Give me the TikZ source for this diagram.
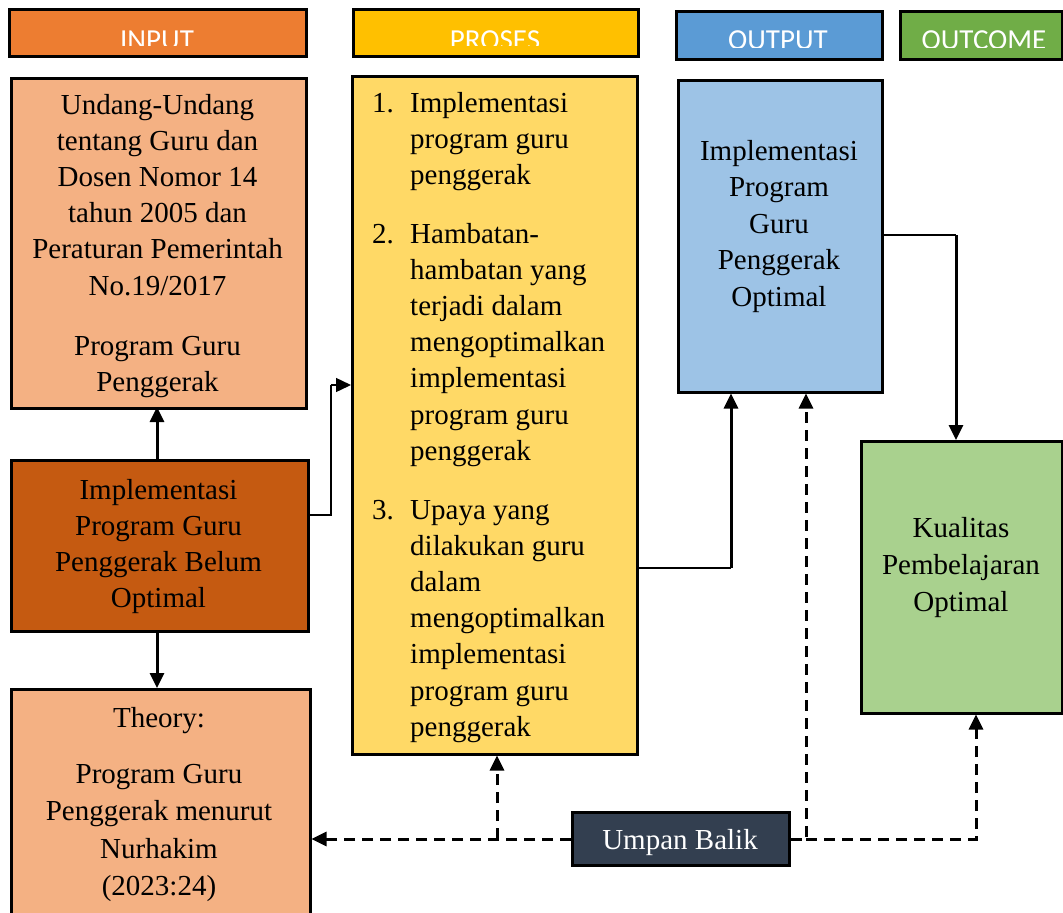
\documentclass[tikz,border=0pt]{standalone}
\usepackage{fontspec}
\setmainfont{Liberation Serif}
\newfontfamily\hdrfont{Carlito}
\usetikzlibrary{arrows.meta}
\definecolor{cInput}{HTML}{ED7D31}
\definecolor{cProses}{HTML}{FFC000}
\definecolor{cOutput}{HTML}{5B9BD5}
\definecolor{cOutcome}{HTML}{70AD47}
\definecolor{cInA}{HTML}{F4B183}
\definecolor{cInB}{HTML}{C55A11}
\definecolor{cPro}{HTML}{FFD966}
\definecolor{cOut}{HTML}{9DC3E6}
\definecolor{cOc}{HTML}{A9D18E}
\definecolor{cUmp}{HTML}{333F50}
\begin{document}
\begin{tikzpicture}[x=1pt,y=-1pt,
  box/.style={draw=black,line width=2.5pt,inner sep=0pt,anchor=north west},
  txt/.style={inner sep=0pt,anchor=base,font=\fontsize{29}{36.2}\selectfont},
  hdrtxt/.style={inner sep=0pt,anchor=base,text=white,font=\hdrfont\fontsize{29}{30}\selectfont},
  tip/.style={-{Triangle[length=15pt,width=14pt]}},
  thin/.style={line width=1.4pt},
  strong/.style={line width=3pt,tip},
  fb/.style={line width=3pt,dash pattern=on 11pt off 7pt},
]
\useasboundingbox (0,0) rectangle (1063,913);

% headers
\node[box,fill=cInput,minimum width=297pt,minimum height=47pt] (hIn) at (8,8) {};
\node[box,fill=cProses,minimum width=285pt,minimum height=47pt] (hPro) at (352,8) {};
\node[box,fill=cOutput,minimum width=206pt,minimum height=48pt] (hOut) at (675,10) {};
\node[box,fill=cOutcome,minimum width=162pt,minimum height=48pt] (hOc) at (899,10) {};
\begin{scope}
\clip (0,0) rectangle (640,45);
\node[hdrtxt] (tIn) at (157,49) {INPUT};
\node[hdrtxt] (tPro) at (495,49) {PROSES};
\end{scope}
\begin{scope}
\clip (660,0) rectangle (1063,47);
\node[hdrtxt] (tOut) at (778,49.5) {OUTPUT};
\node[hdrtxt] (tOc) at (984,49.5) {OUTCOME};
\end{scope}

% boxes
\node[box,fill=cInA,minimum width=295pt,minimum height=330pt] (in1) at (10,77) {};
\node[box,fill=cInB,minimum width=297pt,minimum height=171pt] (in2) at (10,459) {};
\node[box,fill=cInA,minimum width=299pt,minimum height=240pt] (theory) at (10,688) {};
\node[box,fill=cPro,minimum width=285pt,minimum height=678pt] (proses) at (351,75) {};
\node[box,fill=cOut,minimum width=204pt,minimum height=312pt] (output) at (677,79) {};
\node[box,fill=cOc,minimum width=201pt,minimum height=272pt] (outcome) at (860,440) {};
\node[box,fill=cUmp,minimum width=217pt,minimum height=53pt] (umpan) at (571,811) {};

% texts
\node[txt] (in1t) at (157.5,114) {\begin{tabular}[t]{@{}c@{}}
Undang-Undang\\ tentang Guru dan\\ Dosen Nomor 14\\ tahun 2005 dan\\ Peraturan Pemerintah\\ No.19/2017\\[24pt]
Program Guru\\ Penggerak\end{tabular}};
\node[txt] (in2t) at (158.5,499) {\begin{tabular}[t]{@{}c@{}}
Implementasi\\ Program Guru\\ Penggerak Belum\\ Optimal\end{tabular}};
\node[txt,font=\fontsize{29}{37.4}\selectfont] (theoryt) at (159,727) {\begin{tabular}[t]{@{}c@{}}
Theory:\\[19pt]
Program Guru\\ Penggerak menurut\\ Nurhakim\\ (2023:24)\end{tabular}};
\begin{scope}
\clip (351,75) rectangle (636,742);
\node[txt,anchor=base west] (prosest) at (372,112) {\begin{tabular}[t]{@{}l@{}l@{}}
\makebox[38pt][l]{1.} & Implementasi\\
 & program guru\\
 & penggerak\\[22.5pt]
2. & Hambatan-\\
 & hambatan yang\\
 & terjadi dalam\\
 & mengoptimalkan\\
 & implementasi\\
 & program guru\\
 & penggerak\\[22.5pt]
3. & Upaya yang\\
 & dilakukan guru\\
 & dalam\\
 & mengoptimalkan\\
 & implementasi\\
 & program guru\\
 & penggerak\end{tabular}};
\end{scope}
\node[txt,font=\fontsize{29}{36.5}\selectfont] (outputt) at (779,160) {\begin{tabular}[t]{@{}c@{}}
Implementasi\\ Program\\ Guru\\ Penggerak\\ Optimal\end{tabular}};
\node[txt,font=\fontsize{29}{37}\selectfont] (outcomet) at (961,537) {\begin{tabular}[t]{@{}c@{}}
Kualitas\\ Pembelajaran\\ Optimal\end{tabular}};
\node[txt,text=white] (umpant) at (680,849) {Umpan Balik};

% solid connectors
\draw[strong] (in2.north -| 157,0) -- (157,407);
\draw[strong] (in2.south -| 157,0) -- (157,688);
\coordinate (c1) at (331,515);
\coordinate (c2) at (331,385);
\draw[thin] (in2.east |- c1) -- (c1) -- (c2);
\draw[thin,tip] (c2) -- (proses.west |- c2);
\coordinate (c3) at (731,568);
\draw[thin] (proses.east |- c3) -- (c3);
\draw[strong] (c3) -- (c3 |- output.south);
\coordinate (c4) at (956,235);
\draw[thin] (output.east |- c4) -- (c4);
\draw[strong] (c4) -- (c4 |- outcome.north);

% feedback
\coordinate (fbL) at (497,839);
\coordinate (fbR) at (806,839);
\coordinate (fbRR) at (976,839);
\draw[fb,tip] (umpan.west |- fbL) -- (theory.east |- fbL);
\draw[fb,tip] (fbL) -- (fbL |- proses.south);
\draw[fb,tip] (umpan.east |- fbR) -- (fbR) -- (fbR |- output.south);
\draw[fb,tip] (fbR) -- (fbRR) -- (fbRR |- outcome.south);
\end{tikzpicture}
\end{document}
